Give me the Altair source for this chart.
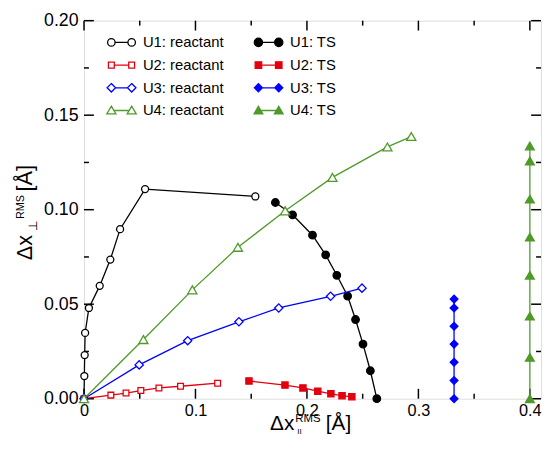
import altair as alt
import pandas as pd

# ---------------- data ----------------
series_names = ["U1: reactant", "U1: TS", "U2: reactant", "U2: TS",
                "U3: reactant", "U3: TS", "U4: reactant", "U4: TS"]

u1_reactant_x = [0, 0.0003, 0.0006, 0.001, 0.0044, 0.0141, 0.0236, 0.0324, 0.0548, 0.1537]
u1_reactant_y = [0, 0.012, 0.0231, 0.0348, 0.048, 0.0597, 0.0736, 0.0897, 0.1109, 0.1070]

u1_ts_x = [0.1717, 0.1871, 0.2050, 0.2168, 0.2268, 0.2365, 0.2436, 0.2503, 0.2569, 0.2627]
u1_ts_y = [0.1038, 0.0973, 0.0865, 0.0761, 0.0653, 0.0543, 0.0419, 0.0289, 0.0148, 0.0]

u2_reactant_x = [0, 0.0241, 0.0377, 0.051, 0.0672, 0.0866, 0.1199]
u2_reactant_y = [0, 0.0019, 0.003, 0.0043, 0.0057, 0.0066, 0.0082]

u2_ts_x = [0.148, 0.1803, 0.1964, 0.2097, 0.2215, 0.2315, 0.2403]
u2_ts_y = [0.0094, 0.0072, 0.0057, 0.004, 0.0026, 0.0016, 0.001]

u3_reactant_x = [0, 0.0495, 0.093, 0.139, 0.1747, 0.2212, 0.2494]
u3_reactant_y = [0, 0.0179, 0.0307, 0.0407, 0.048, 0.0542, 0.0585]

u3_ts_x = [0.332, 0.332, 0.332, 0.332, 0.332, 0.332, 0.332]
u3_ts_y = [0.0527, 0.048, 0.0383, 0.0289, 0.0193, 0.0096, 0.0]

u4_reactant_x = [0, 0.0533, 0.0972, 0.1381, 0.1805, 0.2229, 0.2722, 0.2936]
u4_reactant_y = [0, 0.0313, 0.0576, 0.0801, 0.0994, 0.1171, 0.1332, 0.1387]

u4_ts_x = [0.4, 0.4, 0.4, 0.4, 0.4, 0.4, 0.4, 0.4]
u4_ts_y = [0, 0.0219, 0.0437, 0.0653, 0.0855, 0.1056, 0.1258, 0.1337]

x_major_ticks = [0, 0.1, 0.2, 0.3, 0.4]
x_minor_ticks = [0.05, 0.15, 0.25, 0.35]
y_major_ticks = [0, 0.05, 0.10, 0.15, 0.20]
y_minor_ticks = [0.025, 0.075, 0.125, 0.175]

x_title_parts = ["\u0394x", "RMS", "II", "[\u00c5]"]
y_title_parts = ["\u0394x", "\u22a5", "RMS", "[\u00c5]"]

# ---------------- styling ----------------
BLACK, RED, BLUE, GREEN = "#000000", "#e3000f", "#0000ff", "#4f9a28"
colors = [BLACK, BLACK, RED, RED, BLUE, BLUE, GREEN, GREEN]
shapes = ["circle", "circle", "square", "square", "diamond", "diamond", "triangle-up", "triangle-up"]
filled = [False, True, False, True, False, True, False, True]
sizes = [50, 58, 34, 40, 70, 62, 85, 80]

W, H = 463, 383
FONT = "Liberation Sans"

xs = [u1_reactant_x, u1_ts_x, u2_reactant_x, u2_ts_x, u3_reactant_x, u3_ts_x, u4_reactant_x, u4_ts_x]
ys = [u1_reactant_y, u1_ts_y, u2_reactant_y, u2_ts_y, u3_reactant_y, u3_ts_y, u4_reactant_y, u4_ts_y]

rows = []
for name, xv, yv in zip(series_names, xs, ys):
    for i, (a, b) in enumerate(zip(xv, yv)):
        rows.append({"series": name, "i": i, "x": a, "y": b})
df = pd.DataFrame(rows)

xscale = alt.Scale(domain=[0, 0.41], nice=False, zero=False)
yscale = alt.Scale(domain=[0, 0.20], nice=False, zero=False)
xaxis = alt.Axis(values=x_major_ticks, format="~g", ticks=False, domain=False, grid=False,
                 labelFontSize=16.5, labelPadding=4, labelFont=FONT, labelColor="black",
                 title=None, labelFlush=False)
yaxis = alt.Axis(values=y_major_ticks, format=".2f", ticks=False, domain=False, grid=False,
                 labelFontSize=18, labelPadding=6, labelFont=FONT, labelColor="black",
                 title=None, labelFlush=False)


def X(field):
    return alt.X(field, scale=xscale, axis=xaxis)


def Y(field):
    return alt.Y(field, scale=yscale, axis=yaxis)


layers = []


# inward tick marks on all four sides
def xticks(vals, length):
    d = pd.DataFrame({"v": vals})
    bottom = alt.Chart(d).mark_rule(color="black", strokeWidth=1.5).encode(
        x=X("v:Q"), y=alt.value(H), y2=alt.value(H - length))
    top = alt.Chart(d).mark_rule(color="black", strokeWidth=1.5).encode(
        x=X("v:Q"), y=alt.value(0), y2=alt.value(length))
    return [bottom, top]


def yticks(vals, length):
    d = pd.DataFrame({"v": vals})
    left = alt.Chart(d).mark_rule(color="black", strokeWidth=1.5).encode(
        y=Y("v:Q"), x=alt.value(0), x2=alt.value(length))
    right = alt.Chart(d).mark_rule(color="black", strokeWidth=1.5).encode(
        y=Y("v:Q"), x=alt.value(W), x2=alt.value(W - length))
    return [left, right]


layers += xticks(x_major_ticks, 10) + xticks(x_minor_ticks, 5)
layers += yticks(y_major_ticks, 10) + yticks(y_minor_ticks, 5)

# series lines and markers
base = alt.Chart(df)
for name, c, shp, f, s in zip(series_names, colors, shapes, filled, sizes):
    sub = base.transform_filter(alt.datum.series == name)
    layers.append(sub.mark_line(color=c, strokeWidth=1.3).encode(
        x=X("x:Q"), y=Y("y:Q"), order=alt.Order("i:Q")))
    layers.append(sub.mark_point(shape=shp, size=s, filled=f, color=c,
                                 fill=(c if f else "white"), stroke=c,
                                 strokeWidth=1.3, opacity=1).encode(
        x=X("x:Q"), y=Y("y:Q")))

# legend symbols: a line with a marker at each end (custom SVG paths)
C = 0.936


def fmt(v):
    return f"{v:.3f}"


def circ_path(a):
    out = f"M{fmt(-(C - a))},0L{fmt(C - a)},0"
    for cx in (-C, C):
        out += (f"M{fmt(cx - a)},0A{fmt(a)},{fmt(a)} 0 1,0 {fmt(cx + a)},0"
                f"A{fmt(a)},{fmt(a)} 0 1,0 {fmt(cx - a)},0Z")
    return out


def sq_path(a):
    out = f"M{fmt(-(C - a))},0L{fmt(C - a)},0"
    for cx in (-C, C):
        out += (f"M{fmt(cx - a)},{fmt(-a)}L{fmt(cx + a)},{fmt(-a)}"
                f"L{fmt(cx + a)},{fmt(a)}L{fmt(cx - a)},{fmt(a)}Z")
    return out


def dia_path(a):
    out = f"M{fmt(-(C - a))},0L{fmt(C - a)},0"
    for cx in (-C, C):
        out += (f"M{fmt(cx)},{fmt(-a)}L{fmt(cx + a)},0"
                f"L{fmt(cx)},{fmt(a)}L{fmt(cx - a)},0Z")
    return out


def tri_path(a):
    out = f"M{fmt(-(C - a * 0.6))},0L{fmt(C - a * 0.6)},0"
    for cx in (-C, C):
        out += (f"M{fmt(cx)},{fmt(-a * 0.95)}L{fmt(cx + a)},{fmt(a * 0.75)}"
                f"L{fmt(cx - a)},{fmt(a * 0.75)}Z")
    return out


legend_paths = [circ_path(0.345), circ_path(0.38), sq_path(0.27), sq_path(0.3),
                dia_path(0.39), dia_path(0.37), tri_path(0.42), tri_path(0.40)]
legend_fills = [("white" if not f else c) for c, f in zip(colors, filled)]

# the legend fills its columns top to bottom: reactants first, then TS
legend_idx = [0, 2, 4, 6, 1, 3, 5, 7]
leg_domain = [series_names[k] for k in legend_idx]
leg_colors = [colors[k] for k in legend_idx]
leg_paths = [legend_paths[k] for k in legend_idx]
leg_fills = [legend_fills[k] for k in legend_idx]

leg = alt.Legend(title=None, orient="none", legendX=26, legendY=10, columns=2,
                 columnPadding=27, rowPadding=3, padding=0, labelFont=FONT,
                 labelFontSize=15, labelColor="black", labelOffset=9.7,
                 symbolSize=484, symbolStrokeWidth=1.3, labelLimit=0)

layers.append(base.transform_filter("false").mark_point(strokeWidth=1.3, opacity=1).encode(
    x=X("x:Q"), y=Y("y:Q"),
    color=alt.Color("series:N", scale=alt.Scale(domain=leg_domain, range=leg_colors), legend=leg),
    shape=alt.Shape("series:N", scale=alt.Scale(domain=leg_domain, range=leg_paths), legend=leg),
    fill=alt.Fill("series:N", scale=alt.Scale(domain=leg_domain, range=leg_fills), legend=leg),
))


# axis titles with super/subscripts
def title_piece(txt, x, y, size, align, dx=0, dy=0, angle=0):
    return alt.Chart(pd.DataFrame({"t": [txt]})).mark_text(
        font=FONT, fontSize=size, align=align, baseline="alphabetic", dx=dx, dy=dy,
        angle=angle, color="black").encode(text="t:N", x=alt.value(x), y=alt.value(y))


ax, ay = 213, 415
layers += [
    title_piece(x_title_parts[0], ax, ay, 21, "right"),
    title_piece(x_title_parts[1], ax, ay, 11.5, "left", dx=1, dy=-8),
    title_piece(x_title_parts[2], ax, ay, 8, "left", dx=3, dy=4),
    title_piece(x_title_parts[3], ax, ay, 21, "left", dx=32),
]
bx, by = -53, 217
layers += [
    title_piece(y_title_parts[0], bx, by, 22, "right", angle=270),
    title_piece(y_title_parts[1], bx, by, 12, "left", dx=4, dy=5, angle=270),
    title_piece(y_title_parts[2], bx, by, 11, "left", dx=16, dy=-8, angle=270),
    title_piece(y_title_parts[3], bx, by, 22, "left", dx=44, angle=270),
]

chart = alt.layer(*layers).properties(
    width=W, height=H,
    autosize=alt.AutoSizeParams(type="none"),
    padding={"left": 77, "top": 10, "right": 1, "bottom": 40},
).configure_view(stroke="black", strokeWidth=2).configure(background="white")

chart.save("out.html", embed_options={"renderer": "svg", "actions": False})
